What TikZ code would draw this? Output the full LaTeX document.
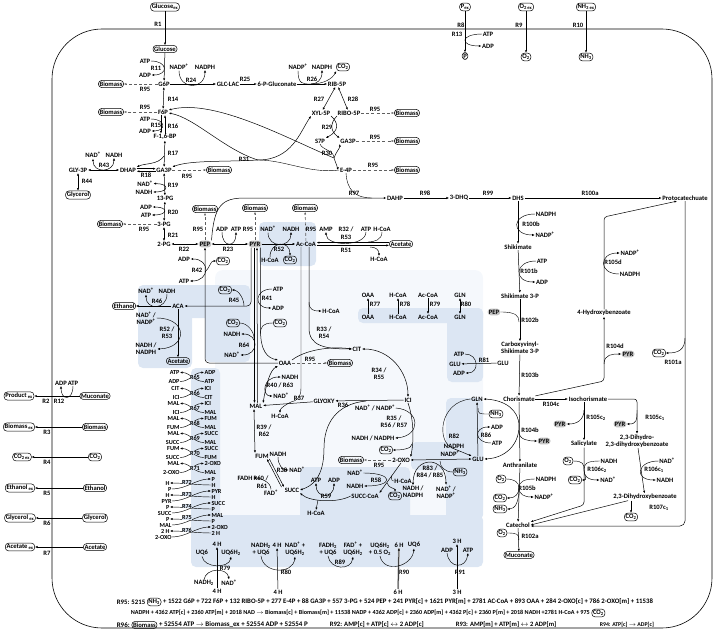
\documentclass[tikz,border=0pt]{standalone}
\usepackage{fontspec}
\setmainfont{Carlito}
\usepackage{tikz}
\usetikzlibrary{positioning,arrows.meta}

\definecolor{panelblue}{RGB}{220,230,243}
\definecolor{matrixblue}{RGB}{245,248,252}
\definecolor{hubgray}{RGB}{196,196,196}
\newcommand{\nadplus}{NAD\textsuperscript{+}}
\newcommand{\nadpplus}{NADP\textsuperscript{+}}
\newcommand{\cotwo}{CO\textsubscript{2}}
\newcommand{\nhthree}{NH\textsubscript{3}}

\begin{document}
\begin{tikzpicture}[
        x=1pt, y=-1pt,
        >={Latex[length=2.6pt,width=2.2pt]},
        every node/.style={font=\fontsize{6.6}{7.1}\selectfont\bfseries, inner sep=0.6pt, align=center},
        small/.style={font=\fontsize{6.2}{6.6}\selectfont\bfseries, inner sep=0.3pt},
        ext/.style={draw, line width=0.5pt, rounded corners=3.2pt, inner sep=1.2pt},
        hub/.style={fill=hubgray, rounded corners=3.2pt, inner sep=1.2pt},
        tlab/.style={small, fill=panelblue},
        flux/.style={->, line width=0.5pt},
        both/.style={<->, line width=0.5pt},
        cof/.style={->, line width=0.45pt},
        drain/.style={->, gray!75!black, line width=0.6pt, dash pattern=on 3pt off 2.2pt},
        panel/.style={fill=panelblue, rounded corners=5pt}
        ]
        \useasboundingbox (0,0) rectangle (714,631);

        % Compartment shading
        \fill[matrixblue, rounded corners=8pt] (215,270) rectangle (483,515);
        \fill[panel] (138,285) rectangle (250,318);
        \fill[panel] (138,300) rectangle (192,368);
        \fill[panel] (205,300) rectangle (250,362);
        \fill[panel] (259,222) rectangle (316,266);
        \fill[panel] (191,368) rectangle (220,530);
        \fill[panel] (191,515) rectangle (483,567);
        \fill[panel] (358,308) rectangle (483,323);
        \fill[panel] (447,308) rectangle (483,382);
        \fill[panel] (446,398) rectangle (483,520);
        \fill[panel] (411,442) rectangle (483,470);
        \fill[panel] (300,467) rectangle (410,520);

        % Cell membrane
        \draw[line width=0.6pt, rounded corners=50pt] (52,29) rectangle (712,628);

        % Uptake from the medium
        \node[ext] (gluex) at (165,7) {Glucose\textsubscript{ex}};
        \node[ext] (pex) at (465,7) {P\textsubscript{ex}};
        \node[ext] (o2ex) at (526,7) {O\textsubscript{2 ex}};
        \node[ext] (nh3ex) at (586,7) {NH\textsubscript{3 ex}};
        \node[ext] (glc) at (165,49) {Glucose};
        \node[ext] (pin) at (465,56) {P};
        \node[ext] (o2in) at (526,57) {O\textsubscript{2}};
        \node[ext] (nh3in) at (586,57) {\nhthree};
        \node (r1) at (158,24) {R1};
        \node (r8) at (461,25) {R8};
        \node (r13) at (457,34) {R13};
        \node (atp13) at (488,34) {ATP};
        \node (adp13) at (488,46) {ADP};
        \node (r9) at (519,25) {R9};
        \node (r10) at (578,25) {R10};

        % Secretion to the medium
        \node[ext] (prodex) at (19,396) {Product\textsubscript{ ex}};
        \node[ext] (mucL) at (95,396) {Muconate};
        \node (adp12) at (61,383) {ADP};
        \node (atp12) at (73,383) {ATP};
        \node (r2) at (46,401) {R2};
        \node (r12) at (59,401) {R12};
        \node[ext] (bmex) at (19,427) {Biomass\textsubscript{ ex}};
        \node[ext] (bmL) at (95,427) {Biomass};
        \node (r3) at (47,432) {R3};
        \node[ext] (co2ex) at (22,457) {CO\textsubscript{2 ex}};
        \node[ext] (co2L) at (95,457) {\cotwo};
        \node (r4) at (47,462) {R4};
        \node[ext] (etex) at (20,488) {Ethanol\textsubscript{ ex}};
        \node[ext] (etL) at (95,488) {Ethanol};
        \node (r5) at (47,493) {R5};
        \node[ext] (glyex) at (20,518) {Glycerol\textsubscript{ ex}};
        \node[ext] (glyL) at (95,518) {Glycerol};
        \node (r6) at (47,523) {R6};
        \node[ext] (acex) at (20,547) {Acetate\textsubscript{ ex}};
        \node[ext] (acL) at (95,547) {Acetate};
        \node (r7) at (47,553) {R7};

        % Glycolysis
        \node (g6p) at (164,84) {G6P};
        \node (atp11) at (145,61) {ATP};
        \node (r11) at (156,68) {R11};
        \node (adp11) at (145,75) {ADP};
        \node[ext] (bmg6p) at (111,84) {Biomass};
        \node (r95a) at (145,89) {R95};
        \node (nadp24) at (179,67) {\nadpplus};
        \node (nadph24) at (205,67) {NADPH};
        \node (r24) at (191,80) {R24};
        \node (glclac) at (228,84) {GLC-LAC};
        \node (r25) at (245,79) {R25};
        \node (pglu) at (277,84) {6-P-Gluconate};
        \node (nadp26) at (298,67) {\nadpplus};
        \node (nadph26) at (322,67) {NADPH};
        \node[ext] (co2r26) at (343,67) {\cotwo};
        \node (r26) at (312,79) {R26};
        \node (rib5p) at (337,84) {RIB-5P};
        \node (r14) at (173,99) {R14};
        \node (f6p) at (163,112) {F6P};
        \node[ext] (bmf6p) at (111,112) {Biomass};
        \node (r95b) at (145,107) {R95};
        \node (atp15) at (145,119) {ATP};
        \node (r15) at (156,125) {R15};
        \node (adp15) at (145,131) {ADP};
        \node (r16) at (173,126) {R16};
        \node (f16bp) at (165,137) {F-1,6-BP};
        \node (r17) at (173,153) {R17};
        \node (nad43) at (93,155) {\nadplus};
        \node (nadh43) at (114,155) {NADH};
        \node (r43) at (104,165) {R43};
        \node (gly3p) at (78,170) {GLY-3P};
        \node (dhap) at (128,170) {DHAP};
        \node (r18) at (146,175.3) {R18};
        \node (ga3p) at (164,170) {GA3P};
        \node (r95c) at (187,176) {R95};
        \node[ext] (bmga3p) at (219,170) {Biomass};
        \node (r44) at (87,181) {R44};
        \node[ext] (glycerol) at (78,195) {Glycerol};
        \node (nad19) at (145,183.6) {\nadplus};
        \node (r19) at (173,185) {R19};
        \node (nadh19) at (144,192) {NADH};
        \node (pg13) at (165,198.5) {13-PG};
        \node (adp20) at (146,207) {ADP};
        \node (r20) at (173,212) {R20};
        \node (atp20) at (146,215) {ATP};
        \node (pg3) at (164,224) {3-PG};
        \node[ext] (bm3pg) at (110,224) {Biomass};
        \node (r95d) at (144,229) {R95};
        \node (r21) at (173,235) {R21};
        \node (pg2) at (164,244) {2-PG};
        \node (r22) at (184,249) {R22};
        \node[hub] (pep) at (205,244) {PEP};
        \node[ext] (bmpep) at (205,209) {Biomass};
        \node (r95e) at (198,229) {R95};
        \node (adp23) at (222,229) {ADP};
        \node (atp23) at (236,229) {ATP};
        \node (r23) at (228,249) {R23};
        \node[hub] (pyr) at (255,244) {PYR};
        \node (r95f) at (248,229) {R95};
        \node[ext] (bmpyr) at (255,208) {Biomass};
        \node (nad52) at (268,229) {\nadplus};
        \node (nadh52) at (291,229) {NADH};
        \node (r52) at (279,249) {R52};
        \node (hcoa52) at (270,260) {H-CoA};
        \node[ext] (co2r52) at (290,260) {\cotwo};
        \node (acoa) at (306,244) {Ac-CoA};
        \node[ext] (bmacoa) at (305,208) {Biomass};
        \node (r95g) at (311,229) {R95};
        \node (amp) at (326,229) {AMP};
        \node (r32) at (346,229) {R32 /};
        \node (atp32) at (366,229) {ATP};
        \node (hcoa32) at (382,229) {H-CoA};
        \node (r53) at (346,237) {R53};
        \node (r51) at (346,250) {R51};
        \node[ext] (acetate) at (401,244) {Acetate};
        \node (hcoa51) at (379,259) {H-CoA};

        % Pentose phosphate pathway
        \node (r27) at (319,99) {R27};
        \node (r28) at (353,99) {R28};
        \node (xyl5p) at (321,113) {XYL-5P};
        \node (ribo5p) at (349,113) {RIBO-5P};
        \node (r95h) at (375,109) {R95};
        \node[ext] (bmribo) at (407,113) {Biomass};
        \node (r29) at (327,127) {R29};
        \node (s7p) at (320,141) {S7P};
        \node (ga3pp) at (348,141) {GA3P};
        \node (r95i) at (375,137) {R95};
        \node[ext] (bmga3pp) at (407,141) {Biomass};
        \node (r30) at (327,153) {R30};
        \node (r31) at (244,159) {R31};
        \node (e4p) at (346,170) {E-4P};
        \node (r95j) at (373,165) {R95};
        \node[ext] (bme4p) at (407,170) {Biomass};
        \coordinate (j30) at (334,158);
        \coordinate (j31) at (258,160);

        % Shikimate and product pathways
        \node (r97) at (354,193) {R97};
        \node (dahp) at (395,198) {DAHP};
        \node (r98) at (425,193) {R98};
        \node (dhq) at (459,198) {3-DHQ};
        \node (r99) at (488,193) {R99};
        \node (dhs) at (518,198) {DHS};
        \node (r100a) at (590,193) {R100a};
        \node (proto) at (685,198) {Protocatechuate};
        \node (nadph100) at (546,214) {NADPH};
        \node (r100b) at (531,224) {R100b};
        \node (nadp100) at (545,235) {\nadpplus};
        \node (shik) at (518,247) {Shikimate};
        \node (atp101) at (542,261) {ATP};
        \node (r101b) at (529,271) {R101b};
        \node (adp101) at (542,282) {ADP};
        \node (shik3p) at (520,296) {Shikimate 3-P};
        \node[hub] (pepb) at (494,312) {PEP};
        \node (r102b) at (530,320) {R102b};
        \node (cvs) at (520,348) {Carboxyvinyl-\\Shikimate 3-P};
        \node (r103b) at (530,375) {R103b};
        \node (chor) at (519,399) {Chorismate};
        \node (r104c) at (551,404) {R104c};
        \node (isochor) at (588,399) {Isochorismate};
        \node (hb4) at (604,313) {4-Hydroxybenzoate};
        \node (nadp105) at (630,253) {\nadpplus};
        \node (r105d) at (613,262) {R105d};
        \node (nadph105) at (630,274) {NADPH};
        \node (r104d) at (615,346) {R104d};
        \node[hub] (pyrd) at (628,354) {PYR};
        \node[ext] (co2r101) at (659,353) {\cotwo};
        \node (r101a) at (673,362) {R101a};
        \node (r105ca) at (596,418) {R105c\textsubscript{2}};
        \node[hub] (pyra) at (560,424) {PYR};
        \node (salic) at (584,444) {Salicylate};
        \node (r105cb) at (655,418) {R105c\textsubscript{1}};
        \node[hub] (pyrc) at (620,424) {PYR};
        \node (dhdhb) at (637,441) {2,3-Dihydro-\\2,3-dihydroxybenzoate};
        \node (r104b) at (530,430) {R104b};
        \node[hub] (pyrb) at (544,441) {PYR};
        \node (anth) at (520,465) {Anthranilate};
        \node[ext] (o2r106) at (568,461) {O\textsubscript{2}};
        \node (nadh106) at (609,461) {NADH};
        \node (r106ca) at (597,470) {R106c\textsubscript{2}};
        \node[ext] (co2r106) at (575,480) {\cotwo};
        \node (nad106) at (608,480) {\nadplus};
        \node (nad106c) at (667,461) {\nadplus};
        \node (r106cb) at (654,470) {R106c\textsubscript{1}};
        \node (nadh106c) at (665,480) {NADH};
        \node[ext] (o2r105) at (501,479) {O\textsubscript{2}};
        \node (nadph105b) at (546,479) {NADPH};
        \node (r105b) at (527,488) {R105b};
        \node[ext] (co2r105) at (500,498) {\cotwo};
        \node (nadp105b) at (544,497) {\nadpplus};
        \node[ext] (nh3r105) at (500,509) {\nhthree};
        \node (dhb) at (645,497) {2,3-Dihydroxybenzoate};
        \node (r107) at (659,508) {R107c\textsubscript{1}};
        \node[ext] (co2r107) at (631,517) {\cotwo};
        \node (catechol) at (518,525) {Catechol};
        \node[ext] (o2r102) at (502,533) {O\textsubscript{2}};
        \node (r102a) at (530,536) {R102a};
        \node[ext] (muc) at (519,555) {Muconate};

        % Fermentation and anaplerosis
        \node (nad46) at (146,291) {\nadplus};
        \node (nadh46) at (167,291) {NADH};
        \node (r46) at (157,301) {R46};
        \node[ext] (ethanol) at (124,306) {Ethanol};
        \node (aca) at (178,306) {ACA};
        \node[ext] (co2r45) at (225,290) {\cotwo};
        \node (r45) at (234,300) {R45};
        \node (nadpr52) at (146,318) {\nadplus{} /\\\nadpplus};
        \node (r5253) at (167,333) {R52 /\\R53};
        \node (nadhr52) at (146,349) {NADH /\\NADPH};
        \node[ext] (acetateb) at (178,361) {Acetate};
        \node (adp42) at (184,259) {ADP};
        \node[ext] (co2r42) at (223,261) {\cotwo};
        \node (r42) at (197,270) {R42};
        \node (atp42) at (184,281) {ATP};
        \node[ext] (co2r64) at (233,323) {\cotwo};
        \node (nadh64) at (232,334) {NADH};
        \node (r64) at (244,345) {R64};
        \node (nad64) at (232,355) {\nadplus};
        \node (atp41) at (278,289) {ATP};
        \node (r41) at (267,298) {R41};
        \node (adp41) at (278,308) {ADP};
        \node[ext] (co2r41) at (280,323) {\cotwo};

        % TCA and glyoxylate cycle
        \node (hcoa33) at (331,311) {H-CoA};
        \node (r3354) at (324,333) {R33 /\\R54};
        \node (cit) at (357,349) {CIT};
        \node (oaa) at (285,363) {OAA};
        \node (r95k) at (310,359) {R95};
        \node[ext] (bmoaa) at (340,363) {Biomass};
        \node (nadh40) at (290,377) {NADH};
        \node (r4063) at (280,385) {R40 / R63};
        \node (nad40) at (281,396) {\nadplus};
        \node (mal) at (256,406) {MAL};
        \node (r37) at (299,398) {R37};
        \node (glyoxy) at (324,401) {GLYOXY};
        \node (r36) at (343,405) {R36};
        \node (ici) at (408,400) {ICI};
        \node (hcoa37) at (280,416) {H-CoA};
        \node (r3455) at (379,374) {R34 /\\R55};
        \node (nad35) at (375,408) {\nadplus{} / \nadpplus};
        \node (r355657) at (394,422) {R35 /\\R56 / R57};
        \node (nadh35) at (373,438) {NADH / NADPH};
        \node[ext] (co2r35) at (386,450) {\cotwo};
        \node (oxo) at (401,460) {2-OXO};
        \node (r95l) at (379,465) {R95};
        \node[ext] (bmoxo) at (351,460) {Biomass};
        \node (r3962) at (264,431) {R39 /\\R62};
        \node (fum) at (262,456) {FUM};
        \node (nadh38) at (278,454) {NADH};
        \node (r38) at (282,470) {R38};
        \node (nad38) at (297,470) {\nadplus};
        \node (fadh) at (245,478) {FADH};
        \node (r60) at (261,478) {R60 /};
        \node (r61) at (262,486) {R61};
        \node (fad) at (271,493) {FAD\textsuperscript{+}};
        \node (succ) at (292,490) {SUCC};
        \node (atp59) at (316,480) {ATP};
        \node (adp59) at (334,480) {ADP};
        \node (r59) at (326,496) {R59};
        \node (hcoa59) at (316,513) {H-CoA};
        \node (succoa) at (365,496) {SUCC-CoA};
        \node (nad58) at (355,473) {\nadplus};
        \node (r58) at (376,480) {R58};
        \node (nadh58) at (355,486) {NADH};
        \node (hcoa58) at (403,481) {H-CoA};
        \node[ext] (co2r58) at (395,496) {\cotwo};
        \node (r838485) at (430,472) {R83 /\\R84 / R85};
        \node (nadh83) at (413,492) {NADH /\\NADPH};
        \node (nad83) at (446,492) {\nadplus{} /\\\nadpplus};
        \node[ext] (nh3r83) at (460,472) {\nhthree};
        \node (gln) at (477,399) {GLN};
        \node (glu) at (478,459) {GLU};
        \node (r82) at (454,436) {R82};
        \node (nadph82) at (454,446) {NADPH};
        \node (nadp82) at (450,454) {\nadpplus};
        \node[ext] (nh3r86) at (496,414) {\nhthree};
        \node (adp86) at (497,427) {ADP};
        \node (r86) at (486,435) {R86};
        \node (atp86) at (497,443) {ATP};
        \node (oaac) at (368,295) {OAA};
        \node (oaam) at (368,317) {OAA};
        \node (r77) at (375,304) {R77};
        \node (hcoac) at (398,295) {H-CoA};
        \node (hcoam) at (398,317) {H-CoA};
        \node (r78) at (405,304) {R78};
        \node (acoac) at (428,295) {Ac-CoA};
        \node (acoam) at (428,317) {Ac-CoA};
        \node (r79) at (435,304) {R79};
        \node (glnc) at (460,295) {GLN};
        \node (glnm) at (460,317) {GLN};
        \node (r80) at (466,304) {R80};
        \node (atp81) at (459,354) {ATP};
        \node (glum) at (455,364) {GLU};
        \node (adp81) at (459,373) {ADP};
        \node (r81) at (484,360) {R81};
        \node (glub) at (503,363) {GLU};

        % Respiratory chain
        \node (h4a) at (217,544) {4 H};
        \node (uq6a) at (202,553) {UQ6};
        \node (uq6h2a) at (231,553) {UQ6H\textsubscript{2}};
        \node (r79b) at (225,568) {R79};
        \node (nadh2a) at (204,583) {NADH\textsubscript{2}};
        \node (nada) at (229,583) {\nadplus};
        \node (h4b) at (217,591) {4 H};
        \node (nadhuq) at (261,549) {NADH\textsubscript{2}\\+ UQ6};
        \node (h4c) at (277,545) {4 H};
        \node (naduq) at (295,549) {\nadplus{} +\\UQ6H\textsubscript{2}};
        \node (r80b) at (286,572) {R80};
        \node (h4d) at (278,592) {4 H};
        \node (fadhuq) at (328,549) {FADH\textsubscript{2}\\+ UQ6};
        \node (fauq) at (353,549) {FAD\textsuperscript{+} +\\UQ6H\textsubscript{2}};
        \node (r89) at (340,562) {R89};
        \node (uqo2) at (380,549) {UQ6H\textsubscript{2}\\+ 0.5 O\textsubscript{2}};
        \node (h6a) at (399,545) {6 H};
        \node (uq6c) at (414,545) {UQ6};
        \node (r90) at (404,572) {R90};
        \node (h6b) at (398,592) {6 H};
        \node (h3a) at (457,541) {3 H};
        \node (adp91) at (447,550) {ADP};
        \node (atp91) at (468,550) {ATP};
        \node (r91) at (460,572) {R91};
        \node (h3b) at (457,592) {3 H};

        % Mitochondrial carriers
        \foreach \r/\y/\lt/\lb/\rt/\rb in {65/377/ATP/ADP/ADP/ATP, 66/393/CIT/ICI/ICI/CIT, 67/408/MAL/ICI/ICI/MAL,
                68/423/MAL/FUM/FUM/MAL, 69/438/MAL/SUCC/SUCC/MAL, 70/453/FUM/SUCC/SUCC/FUM, 71/468/MAL/2-OXO/2-OXO/MAL}{
            \node[small, anchor=east] (lt\r) at (180,\y-4.5) {\lt};
            \node[small, anchor=east] (lb\r) at (180,\y+4.5) {\lb};
            \node[small, anchor=west] (rt\r) at (204,\y-4.5) {\rt};
            \node[small, anchor=west] (rb\r) at (204,\y+4.5) {\rb};
            \draw[cof] (lb\r.east) .. controls +(10,0) and +(-10,0) .. (rt\r.west);
            \draw[cof] (rb\r.west) .. controls +(-10,0) and +(10,0) .. (lt\r.east);
            \node[tlab] (tr\r) at (195,\y) {R\r};
        }
        \foreach \r/\y/\lt/\lb/\rt/\rb in {72/484/H/P/P/H, 73/496/H/PYR/PYR/H, 74/508/P/SUCC/SUCC/P,
                75/520/P/MAL/MAL/P, 76/532/2 H/2-OXO/2-OXO/2 H}{
            \node[small, anchor=east] (lt\r) at (170,\y-1) {\lt};
            \node[small, anchor=east] (lb\r) at (172,\y+5) {\lb};
            \node[small, anchor=west] (rt\r) at (211,\y-5) {\rt};
            \node[small, anchor=west] (rb\r) at (211,\y+1) {\rb};
            \draw[cof] (lb\r.east) .. controls +(14,0) and +(-14,0) .. (rt\r.west);
            \draw[cof] (rb\r.west) .. controls +(-14,0) and +(14,0) .. (lt\r.east);
            \node[tlab] (tr\r) at (187,\y-2) {R\r};
        }

        % Exchange fluxes
        \draw[flux] (gluex) -- (glc);
        \draw[flux] (pex) -- (pin);
        \draw[cof] (atp13.west) .. controls +(-22,0) and +(-22,0) .. (adp13.west);
        \draw[flux] (o2ex) -- (o2in);
        \draw[flux] (nh3ex) -- (nh3in);
        \draw[flux] (mucL) -- (prodex);
        \draw[cof] (atp12.south) .. controls +(0,15) and +(0,15) .. (adp12.south);
        \draw[flux] (bmL) -- (bmex);
        \draw[flux] (co2L) -- (co2ex);
        \draw[flux] (etL) -- (etex);
        \draw[flux] (glyL) -- (glyex);
        \draw[flux] (acL) -- (acex);

        % Upper glycolysis and pentose phosphate
        \draw[flux] (glc) -- (g6p);
        \draw[cof] (atp11.east) .. controls +(17,0) and +(17,0) .. (adp11.east);
        \draw[drain] (g6p) -- (bmg6p);
        \draw[flux] (g6p) -- (glclac);
        \draw[cof] (nadp24.south) .. controls +(0,20) and +(0,20) .. (nadph24.south);
        \draw[flux] (glclac) -- (pglu);
        \draw[flux] (pglu) -- (rib5p);
        \coordinate (c26) at (311,84);
        \draw (nadp26.south) .. controls +(0,14) and +(-8,0) .. (c26);
        \draw[cof] (c26) .. controls +(6,0) and +(0,10) .. (nadph26.south);
        \draw[cof] (c26) .. controls +(12,0) and +(-4,8) .. (co2r26.south west);
        \draw[both] (g6p) -- (f6p);
        \draw[drain] (f6p) -- (bmf6p);
        \draw[flux] ([xshift=-2pt]f6p.south) -- ([xshift=-4pt]f16bp.north);
        \draw[flux] ([xshift=0pt]f16bp.north) -- ([xshift=2pt]f6p.south);
        \draw[cof] (atp15.east) .. controls +(15,0) and +(15,0) .. (adp15.east);
        \draw[both] (f16bp) -- (ga3p);
        \coordinate (c17) at (164,156);
        \draw[->, line width=0.5pt] (c17) .. controls (158,165) and (145,163) .. (dhap.north east);
        \draw[flux] ([yshift=1.3pt]dhap.east) -- ([yshift=1.3pt]ga3p.west);
        \draw[flux] ([yshift=-1.3pt]ga3p.west) -- ([yshift=-1.3pt]dhap.east);
        \draw[both] (dhap) -- (gly3p);
        \draw[both] (nad43.south) .. controls +(0,15) and +(0,15) .. (nadh43.south);
        \draw[both] (gly3p) -- (glycerol);
        \draw[drain] (ga3p) -- (bmga3p);
        \draw[both] (ga3p) -- (pg13);
        \draw[both] (nad19.east) .. controls +(16,0) and +(16,0) .. (nadh19.east);
        \draw[both] (pg13) -- (pg3);
        \draw[both] (adp20.east) .. controls +(16,0) and +(16,0) .. (atp20.east);
        \draw[drain] (pg3) -- (bm3pg);
        \draw[both] (pg3) -- (pg2);
        \draw[both] (pg2) -- (pep);
        \draw[drain] (pep) -- (bmpep);
        \draw[both] (pyr) -- (pep);
        \draw[cof] (adp23.south) .. controls +(0,16) and +(0,16) .. (atp23.south);
        \draw[drain] (pyr) -- (bmpyr);
        \draw[both] (rib5p) -- (xyl5p);
        \draw[both] (rib5p) -- (ribo5p);
        \draw[drain] (ribo5p) -- (bmribo);
        \draw[flux] (xyl5p.south east) .. controls (339,123) and (339,131) .. (s7p.north east);
        \draw[flux] (ribo5p.south west) .. controls (330,123) and (330,131) .. (ga3pp.north west);
        \draw[drain] (ga3pp) -- (bmga3pp);
        \draw (s7p.south) .. controls (322,150) and (334,150) .. (j30);
        \draw[flux] (j30) .. controls (336,152) and (340,148) .. (ga3pp.south west);
        \draw[flux] (j30) .. controls (336,164) and (338,168) .. (e4p.north west);
        \draw[flux] (j30) .. controls (290,140) and (215,98) .. ([yshift=2pt]f6p.east);
        \draw[flux] (j31) .. controls (225,150) and (195,118) .. ([yshift=-1pt]f6p.east);
        \draw[flux] (j31) .. controls (225,162) and (190,160) .. (ga3p.north east);
        \draw[flux] (j31) .. controls (292,160) and (300,132) .. (xyl5p.south west);
        \draw (e4p.west) .. controls (310,174) and (285,160) .. (j31);
        \draw[drain] (e4p) -- (bme4p);

        % Pyruvate node
        \draw[flux] (pyr) -- (acoa);
        \draw[cof] (nad52.south) .. controls +(0,16) and +(0,16) .. (nadh52.south);
        \draw[cof] (hcoa52.north) .. controls +(0,-16) and +(0,-16) .. (co2r52.north);
        \draw[drain] (acoa) -- (bmacoa);
        \draw[flux] ([yshift=1.4pt]acetate.west) -- ([yshift=1.4pt]acoa.east);
        \draw[flux] ([yshift=-1.4pt]acoa.east) -- ([yshift=-1.4pt]acetate.west);
        \draw[cof] (atp32.south) .. controls +(0,15) and +(0,15) .. (amp.south);
        \coordinate (c32) at (368,242);
        \draw (hcoa32.south) .. controls +(0,8) and +(6,0) .. (c32);
        \coordinate (c51) at (370,247);
        \draw[cof] (c51) .. controls +(6,0) and +(0,-6) .. (hcoa51.north);

        % Shikimate pathway
        \coordinate (c97) at (372,198);
        \draw[flux] (pep.north east) .. controls (214,205) and (222,198) .. (245,198) -- (dahp.west);
        \draw (e4p.south) .. controls (347,190) and (355,198) .. (c97);
        \draw[flux] (dahp) -- (dhq);
        \draw[flux] (dhq) -- (dhs);
        \draw[flux] (dhs) -- (proto);
        \draw[flux] (dhs) -- (shik);
        \draw[cof] (nadph100.west) .. controls +(-24,0) and +(-24,0) .. (nadp100.west);
        \draw[flux] (shik) -- (shik3p);
        \draw[cof] (atp101.west) .. controls +(-22,0) and +(-22,0) .. (adp101.west);
        \draw[flux] (shik3p) -- (cvs);
        \coordinate (c102) at (519,322);
        \draw (pepb.east) .. controls +(16,0) and +(0,-6) .. (c102);
        \draw[flux] (cvs) -- (chor);
        \draw[flux] (chor) -- (isochor);
        \draw[flux, rounded corners=3pt] (chor.north east) -- (604,381) -- (hb4.south);
        \coordinate (c104d) at (604,364);
        \draw[cof] (c104d) .. controls +(0,-10) and +(-8,0) .. (pyrd.west);
        \draw[flux, rounded corners=3pt] (hb4.north) -- (604,217) -- ([xshift=-8pt]proto.south);
        \draw[cof] (nadph105.west) .. controls +(-21,0) and +(-21,0) .. (nadp105.west);
        \draw[flux, rounded corners=5pt] (proto.south) |- ([yshift=-1pt]catechol.east);
        \coordinate (c101) at (685,338);
        \draw[cof] (c101) .. controls +(0,12) and +(12,0) .. (co2r101.east);
        \draw[flux] ([xshift=-4pt]isochor.south) -- (salic);
        \coordinate (c105a) at (584,410);
        \draw[cof] (c105a) .. controls +(0,10) and +(10,0) .. (pyra.east);
        \draw[flux, rounded corners=3pt] (isochor.east) -| (dhdhb.north);
        \coordinate (c105c) at (637,410);
        \draw[cof] (c105c) .. controls +(0,10) and +(10,0) .. (pyrc.east);
        \draw[flux] (chor) -- (anth);
        \coordinate (c104b) at (519,432);
        \draw[cof] (c104b) .. controls +(0,8) and +(-8,0) .. (pyrb.west);
        \coordinate (c104g) at (519,426);
        \draw[both] (gln.east) .. controls (505,400) and (519,410) .. (c104g) .. controls (519,445) and (505,458) .. (glu.east);
        \draw[flux, rounded corners=3pt] (salic) -- (584,505) -- (catechol.north east);
        \coordinate (c106) at (584,470);
        \draw (o2r106.east) .. controls +(10,0) and +(0,-6) .. (c106);
        \draw (nadh106.west) .. controls +(-14,0) and +(0,-6) .. (c106);
        \draw[cof] (c106) .. controls +(0,6) and +(6,0) .. (co2r106.east);
        \draw[cof] (c106) .. controls +(0,6) and +(-12,0) .. (nad106.west);
        \draw[flux] (dhdhb) -- (dhb);
        \draw[cof] (nad106c.west) .. controls +(-22,0) and +(-22,0) .. (nadh106c.west);
        \draw[flux] ([xshift=-17pt]dhb.south) -- (catechol.east);
        \draw[cof] ([xshift=-14pt]dhb.south) -- (co2r107.north);
        \draw[flux] (anth) -- (catechol);
        \coordinate (c105b) at (519,488);
        \draw (o2r105.east) .. controls +(8,0) and +(0,-6) .. (c105b);
        \draw (nadph105b.west) .. controls +(-12,0) and +(0,-6) .. (c105b);
        \draw[cof] (c105b) .. controls +(0,6) and +(8,0) .. (co2r105.east);
        \draw[cof] (c105b) .. controls +(0,6) and +(-10,0) .. (nadp105b.west);
        \draw[cof] (c105b) .. controls +(0,14) and +(8,0) .. (nh3r105.east);
        \draw[flux] (catechol) -- (muc);
        \coordinate (c102a) at (519,540);
        \draw (o2r102.east) .. controls +(10,0) and +(0,-6) .. (c102a);

        % Fermentation and anaplerosis
        \draw[flux, rounded corners=4pt] ([xshift=-4pt]pyr.south) |- (aca.east);
        \coordinate (c45) at (244,306);
        \draw[cof] (c45) .. controls +(0,-8) and +(6,0) .. (co2r45.east);
        \draw[flux] (aca) -- (ethanol);
        \draw[cof] (nadh46.south) .. controls +(0,16) and +(0,16) .. (nad46.south);
        \draw[flux] (aca) -- (acetateb);
        \draw[cof] (nadpr52.east) .. controls (188,318) and (188,348) .. (nadhr52.east);
        \draw[flux, rounded corners=4pt] (oaa.west) -| (pep.south);
        \draw[both] (adp42.east) .. controls +(20,0) and +(20,0) .. (atp42.east);
        \coordinate (c42) at (205,272);
        \draw[cof] (c42) .. controls +(6,-6) and +(-6,0) .. (co2r42.west);
        \draw[flux] ([xshift=-0.5pt]pyr.south) -- ([xshift=-1.5pt]mal.north);
        \draw[flux] ([xshift=1.5pt]mal.north) -- ([xshift=2pt]pyr.south);
        \coordinate (c64) at (254,338);
        \draw[both] (nadh64.east) .. controls (259,334) and (259,355) .. (nad64.east);
        \draw (co2r64.east) .. controls +(8,0) and +(0,-6) .. (c64);
        \draw[flux] ([xshift=5.5pt]pyr.south) -- (260.5,330) .. controls (260.5,352) and (268,358) .. (oaa.north west);
        \draw[cof] (atp41.west) .. controls +(-18,0) and +(-18,0) .. (adp41.west);
        \coordinate (c41) at (260.5,334);
        \draw (co2r41.west) .. controls +(-10,0) and +(0,-8) .. (c41);

        % TCA and glyoxylate cycle
        \draw[flux] ([xshift=3pt]acoa.south) -- (309,328) .. controls (309,346) and (325,349) .. (cit.west);
        \coordinate (c33) at (309,302);
        \draw[cof] (c33) .. controls +(0,8) and +(-8,0) .. (hcoa33.west);
        \draw[flux] (oaa.north east) .. controls (305,350) and (330,346) .. (cit.west);
        \draw[drain] (oaa) -- (bmoaa);
        \draw[both] (cit.east) .. controls (390,349) and (408,372) .. (ici.north);
        \draw[flux] (ici) -- (glyoxy);
        \coordinate (c36) at (366,401);
        \draw[flux] (c36) .. controls (336,404) and (324,424) .. (324,448) .. controls (324,478) and (312,486) .. (succ.east);
        \draw[flux] (glyoxy) -- (mal);
        \coordinate (c37) at (291,402);
        \draw ([xshift=-5pt]acoa.south) -- (301,388) .. controls (301,398) and (296,401) .. (c37);
        \draw[cof] (c37) .. controls +(-4,2) and +(0,-5) .. (hcoa37.north);
        \draw[both] (mal.north east) .. controls (266,385) and (270,370) .. (oaa.south west);
        \draw[both] (nadh40.west) .. controls (262,377) and (262,396) .. (nad40.west);
        \draw[flux] (ici.south) .. controls (414,420) and (414,442) .. (oxo.north east);
        \draw[cof] (nad35.east) .. controls (421,410) and (421,436) .. (nadh35.east);
        \coordinate (c35) at (412,444);
        \draw[cof] (c35) .. controls +(0,5) and +(8,0) .. (co2r35.east);
        \draw[drain] (oxo) -- (bmoxo);
        \draw[both] ([xshift=-2pt]mal.south) -- ([xshift=-7pt]fum.north);
        \draw[flux] (fum.south east) -- (succ.north west);
        \draw[flux] ([xshift=-2.5pt]succ.north west) -- ([xshift=-2.5pt]fum.south east);
        \draw[cof] (nadh38.south) .. controls +(0,8) and +(-6,0) .. (nad38.west);
        \draw[cof] (fad.north) .. controls +(0,-8) and +(6,0) .. (fadh.east);
        \draw[flux] (succoa.west) .. controls (338,503) and (310,502) .. (succ.south east);
        \draw[both] (atp59.south) .. controls +(0,16) and +(0,16) .. (adp59.south);
        \coordinate (c59) at (318,500);
        \draw[cof] (c59) -- (hcoa59.north);
        \draw[flux] (oxo.south) -- (succoa.north east);
        \draw[cof] (nad58.east) .. controls (394,473) and (394,486) .. (nadh58.east);
        \coordinate (c58) at (391,476);
        \draw (hcoa58.west) .. controls +(-4,0) and +(2,-2) .. (c58);
        \coordinate (c58b) at (387,483);
        \draw[cof] (c58b) .. controls +(2,6) and +(0,-4) .. (co2r58.north);
        \draw[both] (oxo.east) -- (glu.west);
        \draw[both] (nadh83.north) .. controls +(0,-30) and +(0,-30) .. (nad83.north);
        \coordinate (c83) at (440,461);
        \draw (nh3r83.west) .. controls +(-8,0) and +(0,6) .. (c83);
        \coordinate (c82) at (452,448);
        \draw (gln.west) .. controls (440,402) and (436,440) .. (c82);
        \draw[flux] (c82) .. controls (462,452) .. (glu.north west);
        \draw[flux] (glu) -- (gln);
        \coordinate (c86) at (478,408);
        \draw (nh3r86.west) .. controls +(-10,0) and +(0,6) .. (c86);
        \draw[cof] (atp86.west) .. controls +(-17,0) and +(-17,0) .. (adp86.west);
        \draw[flux] (glub) -- (glum);
        \draw[cof] (atp81.east) .. controls +(14,0) and +(14,0) .. (adp81.east);
        \draw[flux] (oaam) -- (oaac);
        \draw[flux] (hcoam) -- (hcoac);
        \draw[flux] (acoac) -- (acoam);
        \draw[both] (glnc) -- (glnm);

        % Respiratory chain
        \draw[flux] (h4b) -- (h4a);
        \draw[cof] (uq6a.south) .. controls +(2,12) and +(-2,12) .. (uq6h2a.south);
        \draw[cof] (nadh2a.north) .. controls +(2,-12) and +(-2,-12) .. (nada.north);
        \draw[flux] (h4d) -- (h4c);
        \draw[cof] (nadhuq.south) .. controls +(2,18) and +(-2,18) .. (naduq.south);
        \draw[cof] (fadhuq.south) .. controls +(2,14) and +(-2,14) .. (fauq.south);
        \draw[line width=2pt, gray!50] (h6b.north) -- (h6a.south);
        \draw[flux] (h6b) -- (h6a);
        \draw[cof] (uqo2.south) .. controls +(4,18) and +(-2,18) .. (uq6c.south);
        \draw[flux] (h3b) -- (h3a);
        \draw[cof] (adp91.south) .. controls +(2,16) and +(-2,16) .. (atp91.south);

        % Lumped reactions
        \node[anchor=west, font=\fontsize{6.8}{8}\selectfont\bfseries] (fa1) at (116,602) {R95: 5215};
        \node[ext, right=1pt of fa1] (fa2) {\nhthree};
        \node[right=1pt of fa2, font=\fontsize{6.8}{8}\selectfont\bfseries] (fa3) {+ 1522 G6P + 722 F6P + 132 RIBO-5P + 277 E-4P + 88 GA3P + 557 3-PG + 524 PEP + 241 PYR[c] + 1621 PYR[m] + 2781 AC-CoA + 893 OAA + 284 2-OXO[c] + 786 2-OXO[m] + 11538};
        \node[anchor=west, font=\fontsize{6.15}{7}\selectfont\bfseries] (fb1) at (130,613) {NADPH + 4362 ATP[c] + 2360 ATP[m] + 2018 NAD $\rightarrow$ Biomass[c] + Biomass[m] + 11538 NADP + 4362 ADP[c] + 2360 ADP[m] + 4362 P[c] + 2360 P[m] + 2018 NADH +2781 H-CoA + 975};
        \node[ext, right=1pt of fb1] (fb2) {\cotwo};
        \node[anchor=west, font=\fontsize{7}{8}\selectfont\bfseries] (fc1) at (116,625) {R96:};
        \node[ext, right=1pt of fc1] (fc2) {Biomass};
        \node[right=1pt of fc2, font=\fontsize{7}{8}\selectfont\bfseries] (fc3) {+ 52554 ATP $\rightarrow$ Biomass\_ex + 52554 ADP + 52554 P};
        \node[anchor=west, font=\fontsize{6.7}{8}\selectfont\bfseries] (fd) at (329,625) {R92: AMP[c] + ATP[c] $\leftrightarrow$ 2 ADP[c]};
        \node[anchor=west, font=\fontsize{6.6}{8}\selectfont\bfseries] (fe) at (455,625) {R93: AMP[m] + ATP[m] $\leftrightarrow$ 2 ADP[m]};
        \node[anchor=west, font=\fontsize{5.8}{7}\selectfont\bfseries] (ff) at (599,625) {R94: ATP[c] $\rightarrow$ ADP[c]};
\end{tikzpicture}
\end{document}
